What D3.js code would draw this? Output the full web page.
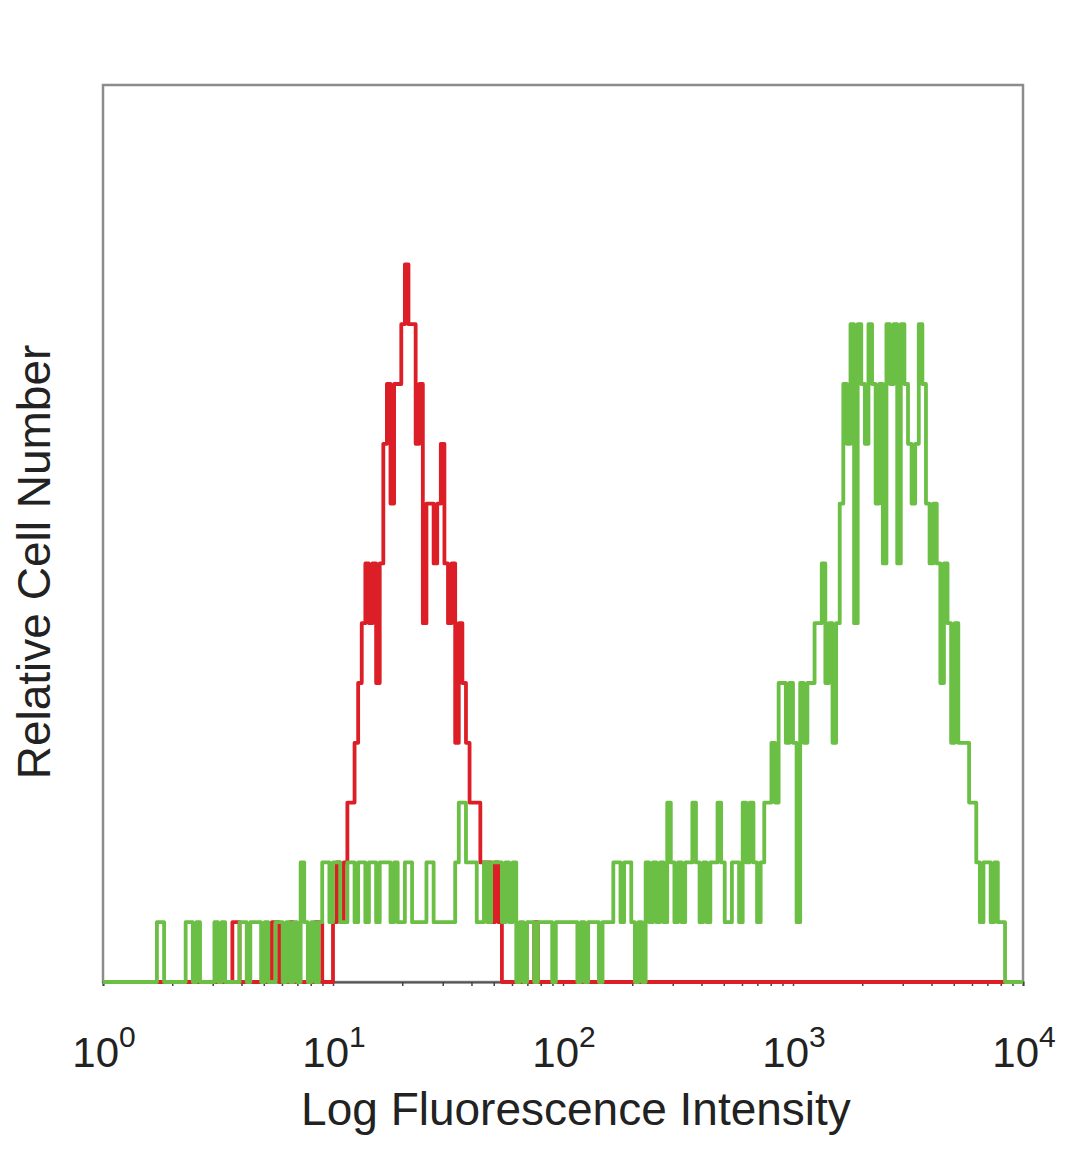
<!DOCTYPE html>
<html>
<head>
<meta charset="utf-8">
<script src="https://cdn.jsdelivr.net/npm/d3@7"></script>
<style>
  body { margin: 0; background: #fff; }
  svg text { font-family: "Liberation Sans", Arial, sans-serif; fill: #222; }
</style>
</head>
<body>
<svg width="1080" height="1169"></svg>
<script>
// **** Data (256 log channels, 4 decades) ****
var channelCount = 256;
var decades = 4;

var redCounts = [
  0,0,0,0,0,0,0,0,0,0, 0,0,0,0,0,0,0,0,0,0,
  0,0,0,0,0,0,0,0,0,0, 0,0,0,0,0,0,1,1,0,0,
  0,0,0,0,0,0,0,1,1,0, 0,0,1,0,0,0,0,0,0,1,
  1,0,0,0,1,2,1,2,3,3, 4,5,6,7,6,7,5,7,9,10,
  8,10,10,11,12,11,11,9,10,6, 8,8,7,8,9,7,6,7,4,6,
  5,4,3,3,3,2,2,2,1,2, 1,0,0,0,0,0,0,0,0,0,
  1,0,0,0,0,0,0,0,0,0, 0,0,0,0,0,0,0,0,0,0,
  0,0,0,0,0,0,0,0,0,0, 0,0,0,0,0,0,0,0,0,0,
  0,0,0,0,0,0,0,0,0,0, 0,0,0,0,0,0,0,0,0,0,
  0,0,0,0,0,0,0,0,0,0, 0,0,0,0,0,0,0,0,0,0,
  0,0,0,0,0,0,0,0,0,0, 0,0,0,0,0,0,0,0,0,0,
  0,0,0,0,0,0,0,0,0,0, 0,0,0,0,0,0,0,0,0,0,
  0,0,0,0,0,0,0,0,0,0, 0,0,0,0,0,0
];

var greenCounts = [
  0,0,0,0,0,0,0,0,0,0, 0,0,0,0,0,1,1,0,0,0,
  0,0,0,1,1,0,1,0,0,0, 0,1,0,1,0,0,0,0,1,1,
  0,1,1,1,0,1,0,0,1,1, 0,1,0,1,0,2,1,0,1,0,
  1,2,2,1,2,2,1,1,2,2, 1,2,2,1,2,2,1,2,2,2,
  1,2,1,1,2,2,1,1,1,1, 2,2,1,1,1,1,1,1,2,3,
  3,2,2,2,1,1,2,1,2,2, 2,1,2,1,2,0,1,0,1,1,
  0,1,1,1,1,0,1,1,1,1, 1,1,0,1,0,1,1,1,0,1,
  1,1,2,2,1,2,2,1,0,1, 0,2,1,2,1,2,1,3,2,1,
  2,1,2,2,3,2,1,2,1,2, 2,3,2,1,1,2,2,1,3,2,
  3,2,1,2,3,3,4,3,5,5, 4,5,4,1,5,4,5,5,6,6,
  7,5,6,4,6,8,10,9,11,6, 11,10,9,11,10,8,10,7,11,10,
  11,7,11,10,9,8,9,11,10,8, 7,8,7,5,7,6,4,6,4,4,
  4,3,3,2,1,2,2,1,2,1, 1,0,0,0,0,0
];

var majorTicks = [1, 10, 100, 1000, 10000];
var tickExponents = ["0", "1", "2", "3", "4"];
var xTitle = "Log Fluorescence Intensity";
var yTitle = "Relative Cell Number";
var yMax = 15;

var svg = d3.select("svg");

// **** Scales ****
var plotLeft = 103, plotRight = 1023, plotTop = 85, plotBottom = 982;

var xScale = d3.scaleLog()
    .domain([1, Math.pow(10, decades)])
    .range([plotLeft, plotRight]);

var yScale = d3.scaleLinear()
    .domain([0, yMax])
    .range([plotBottom, plotTop]);

// channel edge -> fluorescence value
function channelValue(c) {
    return Math.pow(10, decades * c / channelCount);
}

function stepPoints(counts) {
    var pts = counts.map(function(n, i) { return [channelValue(i), n]; });
    pts.push([channelValue(channelCount), counts[counts.length - 1]]);
    return pts;
}

var line = d3.line()
    .x(d => xScale(d[0]))
    .y(d => yScale(d[1]))
    .curve(d3.curveStepAfter);

// **** Frame ****
svg.append("rect")
    .attr("x", plotLeft)
    .attr("y", plotTop)
    .attr("width", plotRight - plotLeft)
    .attr("height", plotBottom - plotTop)
    .attr("fill", "none")
    .attr("stroke", "#8c8c8c")
    .attr("stroke-width", 2.5);

// minor + major log ticks along the bottom
var allTicks = [];
for (var k = 0; k < decades; k++) {
    for (var m = 1; m < 10; m++) allTicks.push(m * Math.pow(10, k));
}
allTicks.push(Math.pow(10, decades));

var xAxis = d3.axisBottom(xScale)
    .tickValues(allTicks)
    .tickSize(4)
    .tickFormat("");

svg.append("g")
    .attr("class", "x axis")
    .attr("transform", "translate(0," + plotBottom + ")")
    .call(xAxis)
    .call(g => g.select(".domain").attr("stroke", "#555").attr("stroke-width", 2))
    .call(g => g.selectAll(".tick line").attr("stroke", "#444").attr("stroke-width", 1.5));

// **** Histograms ****
svg.append("path")
    .datum(stepPoints(redCounts))
    .attr("d", line)
    .attr("fill", "none")
    .attr("stroke", "#dc1f26")
    .attr("stroke-width", 3.8)
    .attr("stroke-linejoin", "round");

svg.append("path")
    .datum(stepPoints(greenCounts))
    .attr("d", line)
    .attr("fill", "none")
    .attr("stroke", "#6abf44")
    .attr("stroke-width", 3.8)
    .attr("stroke-linejoin", "round");

// **** Tick labels (10 with superscript) ****
var labels = svg.selectAll(".tick-label")
    .data(majorTicks)
    .enter()
    .append("text")
    .attr("class", "tick-label")
    .attr("x", d => xScale(d) + 1)
    .attr("y", 1067)
    .attr("text-anchor", "middle")
    .style("font-size", "42px");

labels.append("tspan").text("10");
labels.append("tspan")
    .attr("dy", -20)
    .style("font-size", "30px")
    .text((d, i) => tickExponents[i]);

// **** Axis titles ****
svg.append("text")
    .attr("x", 576)
    .attr("y", 1125)
    .attr("text-anchor", "middle")
    .style("font-size", "46px")
    .text(xTitle);

svg.append("text")
    .attr("transform", "translate(50,562) rotate(-90)")
    .attr("text-anchor", "middle")
    .style("font-size", "46px")
    .text(yTitle);
</script>
</body>
</html>
